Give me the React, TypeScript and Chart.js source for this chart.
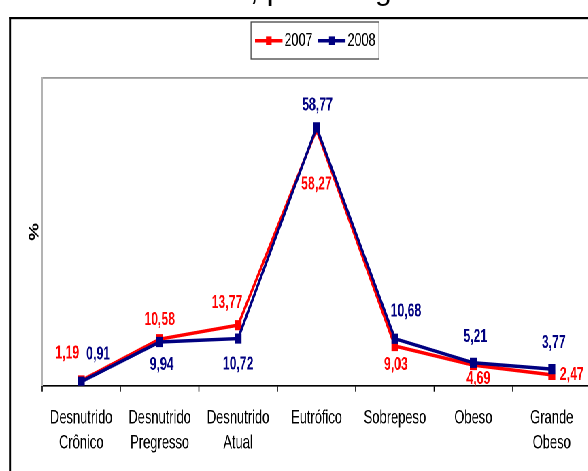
import React, { useEffect, useRef } from 'react';
import { Chart, registerables } from 'chart.js';

Chart.register(...registerables);

// ---- data ----
const categories: string[][] = [
  ['Desnutrido', 'Crônico'],
  ['Desnutrido', 'Pregresso'],
  ['Desnutrido', 'Atual'],
  ['Eutrófico'],
  ['Sobrepeso'],
  ['Obeso'],
  ['Grande', 'Obeso'],
];
const seriesNames = ['2007', '2008'];
const values2007 = [1.19, 10.58, 13.77, 58.27, 9.03, 4.69, 2.47];
const values2008 = [0.91, 9.94, 10.72, 58.77, 10.68, 5.21, 3.77];
const yMin = 0;
const yMax = 70;
const yAxisTitle = '%';
const titlePrefix = 'Estado nutricional dos internados';
const titleSuffix = ', por categoria';

// ---- style / layout ----
const SX = 0.68; // horizontal squeeze of the whole picture
const W = 900;
const H = 480;
const COLORS = ['#FF0000', '#000080'];
const FONT = '"Liberation Sans", Arial, Helvetica, sans-serif';
// label offsets (page px) relative to each point
const labelOffsets2007 = [[-14, -27], [0, -19], [-11, -22], [0, 55], [1, 19], [5, 14], [20, 0]];
const labelOffsets2008 = [[17, -27], [2, 23], [0, 26], [1, -22], [11, -27], [2, -26], [2, -26]];

const fmt = (v: number) => v.toFixed(2).replace('.', ',');

const decor = {
  id: 'decor',
  beforeDraw(chart: any) {
    const ctx = chart.ctx as CanvasRenderingContext2D;
    const a = chart.chartArea;
    ctx.save();
    ctx.fillStyle = '#ffffff';
    ctx.fillRect(0, 0, W, H);
    // outer frame
    ctx.fillStyle = '#000000';
    ctx.fillRect(9 / SX, 17, 2 / SX, H);
    ctx.fillRect(9 / SX, 17, W, 2.2);
    // plot area top border
    ctx.fillStyle = '#9a9a9a';
    ctx.fillRect(a.left, a.top - 1, W - a.left, 1.8);
    ctx.restore();
  },
  afterDraw(chart: any) {
    const ctx = chart.ctx as CanvasRenderingContext2D;
    ctx.save();
    // data labels
    const offs = [labelOffsets2007, labelOffsets2008];
    chart.data.datasets.forEach((ds: any, di: number) => {
      const meta = chart.getDatasetMeta(di);
      ctx.fillStyle = COLORS[di];
      ctx.font = `bold 18px ${FONT}`;
      ctx.textAlign = 'center';
      ctx.textBaseline = 'middle';
      meta.data.forEach((el: any, i: number) => {
        const [dx, dy] = offs[di][i];
        ctx.fillText(fmt(ds.data[i]), el.x + dx / SX, el.y + dy);
      });
    });

    // legend
    const lx = 251, ly = 22, lw = 128, lh = 37;
    ctx.strokeStyle = '#444';
    ctx.lineWidth = 1.3;
    ctx.strokeRect(lx / SX, ly, lw / SX, lh);
    chart.data.datasets.forEach((ds: any, di: number) => {
      const x0 = 255 + di * 63;
      const cy = 40.7;
      ctx.strokeStyle = COLORS[di];
      ctx.lineWidth = 3.5;
      ctx.beginPath();
      ctx.moveTo(x0 / SX, cy);
      ctx.lineTo((x0 + 27.5) / SX, cy);
      ctx.stroke();
      ctx.fillStyle = COLORS[di];
      ctx.fillRect((x0 + 11) / SX, cy - 4.3, 5.6 / SX, 8.6);
      ctx.fillStyle = '#000';
      ctx.font = `18.5px ${FONT}`;
      ctx.textAlign = 'left';
      ctx.textBaseline = 'middle';
      ctx.fillText(ds.label, (x0 + 29.5) / SX, cy);
    });
    ctx.restore();
  },
};

export default function App() {
  const ref = useRef<HTMLCanvasElement | null>(null);
  useEffect(() => {
    if (!ref.current) return;
    const chart = new Chart(ref.current, {
      type: 'line',
      data: {
        labels: categories,
        datasets: [
          {
            label: seriesNames[0],
            data: values2007,
            borderColor: COLORS[0],
            backgroundColor: COLORS[0],
            borderWidth: 3.5,
            pointStyle: 'rect',
            pointRadius: 6.5,
            pointBorderWidth: 1,
            pointBackgroundColor: COLORS[0],
            pointBorderColor: COLORS[0],
            tension: 0,
            order: 1,
          },
          {
            label: seriesNames[1],
            data: values2008,
            borderColor: COLORS[1],
            backgroundColor: COLORS[1],
            borderWidth: 3.5,
            pointStyle: 'rect',
            pointRadius: 6.5,
            pointBorderWidth: 1,
            pointBackgroundColor: COLORS[1],
            pointBorderColor: COLORS[1],
            tension: 0,
            order: 0,
          },
        ],
      },
      options: {
        animation: false,
        responsive: false,
        maintainAspectRatio: false,
        devicePixelRatio: 2,
        layout: { padding: { left: 0, top: 78, right: W - 591 / SX, bottom: 0 } },
        plugins: {
          legend: { display: false },
          tooltip: { enabled: false },
          title: { display: false },
        },
        scales: {
          x: {
            type: 'category',
            offset: true,
            grid: {
              display: true,
              drawOnChartArea: false,
              drawTicks: true,
              tickLength: 6,
              tickColor: '#000',
              tickWidth: 1.6,
              offset: true,
            },
            border: { display: true, color: '#000', width: 1.6 },
            ticks: {
              color: '#000',
              font: { family: FONT, size: 19, lineHeight: 1.32 },
              padding: 14,
              maxRotation: 0,
              minRotation: 0,
              autoSkip: false,
            },
            afterFit: (s: any) => {
              s.height = H - 385.7;
            },
          },
          y: {
            min: yMin,
            max: yMax,
            grid: { display: false, drawTicks: false },
            border: { display: true, color: '#b3b3b3', width: 2.5 },
            ticks: { display: false },
            title: {
              display: true,
              text: yAxisTitle,
              color: '#000',
              font: { family: FONT, size: 20, weight: 'bold' },
              padding: { top: 39, bottom: 0 },
            },
            afterFit: (s: any) => {
              s.width = 42 / SX;
            },
          },
        },
      },
      plugins: [decor],
    });
    return () => chart.destroy();
  }, []);

  const titleFont: React.CSSProperties = {
    fontFamily: FONT,
    fontSize: 30,
    lineHeight: '30px',
    whiteSpace: 'nowrap',
    color: '#000',
  };

  return (
    <>
      <div
        style={{
          position: 'fixed',
          left: 0,
          top: 0,
          width: W,
          height: H,
          transform: `scaleX(${SX})`,
          transformOrigin: '0 0',
          background: '#fff',
        }}
      >
        <canvas ref={ref} width={W} height={H} style={{ display: 'block', width: W, height: H }} />
      </div>
      <div
        style={{
          ...titleFont,
          position: 'fixed',
          top: -25,
          left: 0,
          width: 250,
          display: 'flex',
          justifyContent: 'flex-end',
        }}
      >
        <span>{titlePrefix}</span>
      </div>
      <div style={{ ...titleFont, position: 'fixed', top: -25, left: 250 }}>
        <span>{titleSuffix}</span>
      </div>
    </>
  );
}
